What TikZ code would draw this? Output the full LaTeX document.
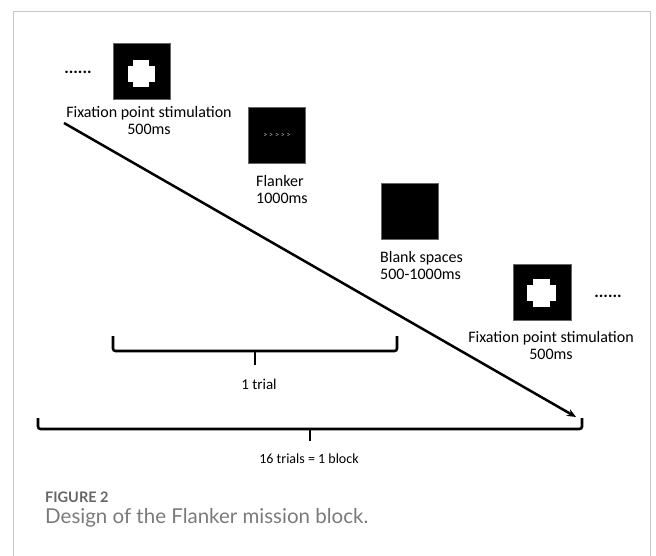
\documentclass[tikz,border=0pt]{standalone}
\usepackage{fontspec}
\setmainfont{Carlito}
\newfontfamily\capfont{Lato}
\usetikzlibrary{arrows.meta}
\begin{document}
\begin{tikzpicture}[x=1pt,y=-1pt,
  frameline/.style={draw=black!22,line width=0.9pt},
  stim/.style={fill=black,draw=black!60,line width=0.3pt},
  lbl/.style={font=\fontsize{16}{17}\selectfont,text=black,inner sep=0pt},
  brk/.style={line width=2.6pt,rounded corners=2.5pt},
  dots/.style={font=\fontsize{17}{18}\selectfont\bfseries,inner sep=0pt}]
\useasboundingbox (0,0) rectangle (656,556);
% frame
\draw[frameline] (13,556) -- (13,11) -- (650,11) -- (650,556);
% fixation 1
\path[stim] (113,43) rectangle (170,99);
\fill[white] (133,60) rectangle (149,87);
\fill[white] (128,66) rectangle (155,82);
\node[dots] (d1) at (78,72) {......};
\node[lbl,align=center] (fix1) at (149,121) {Fixation point stimulation\\500ms};
% flanker
\path[stim] (248,107) rectangle (305,163);
\node[font=\fontsize{8}{9}\selectfont,text=black!30,inner sep=0pt] (arr) at (277,135) {\textgreater\ \textgreater\ \textgreater\ \textgreater\ \textgreater};
\node[lbl,align=left,anchor=north west] (fl) at (256,175) {Flanker\\1000ms};
% blank
\path[stim] (381,183) rectangle (438,239);
\node[lbl,align=left,anchor=north west] (bl) at (380,251) {Blank spaces\\500-1000ms};
% fixation 2
\path[stim] (513,264) rectangle (571,320);
\fill[white] (533,279) rectangle (550,307);
\fill[white] (527,285) rectangle (556,301);
\node[dots] (d2) at (608,296) {......};
\node[lbl,align=center] (fix2) at (551,346) {Fixation point stimulation\\500ms};
% diagonal arrow
\coordinate (a0) at (64,123);
\coordinate (a1) at (576,417);
\draw[line width=2.5pt,-{Stealth[length=9pt,width=7.5pt]}] (a0) -- (a1);
% small bracket
\coordinate (s1) at (113,336);
\coordinate (s2) at (397,336);
\coordinate (st) at (255,365);
\draw[brk] (s1) -- (113,351) -- (397,351) -- (s2);
\draw[line width=2.8pt] (255,350) -- (st);
\node[lbl,font=\fontsize{15}{16}\selectfont] (tr) at (259,384) {1 trial};
% big bracket
\coordinate (b1) at (38,418);
\coordinate (b2) at (582,418);
\coordinate (bt) at (310,441);
\draw[brk] (b1) -- (38,429) -- (582,429) -- (b2);
\draw[line width=2.8pt] (310,428) -- (bt);
\node[font=\fontsize{14}{15}\selectfont,text=black,inner sep=0pt] (blk) at (309,459) {16 trials = 1 block};
% caption
\node[anchor=west,inner sep=0pt,font=\capfont\bfseries\fontsize{14.5}{16}\selectfont,text=black!60] (fig) at (45,497) {FIGURE 2};
\node[anchor=west,inner sep=0pt,font=\capfont\fontsize{20.5}{22}\selectfont,text=black!52] (cap) at (45,518) {Design of the Flanker mission block.};
\end{tikzpicture}
\end{document}
